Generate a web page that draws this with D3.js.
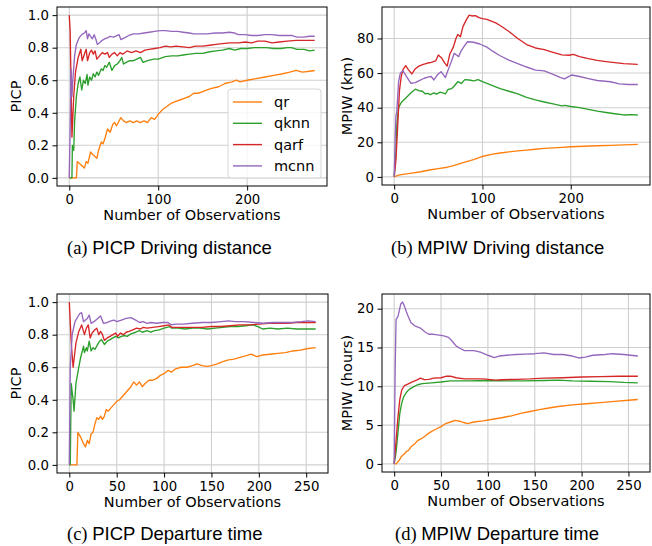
<!DOCTYPE html>
<html>
<head>
<meta charset="utf-8">
<script src="https://cdn.jsdelivr.net/npm/d3@7"></script>
<style>
  body { margin: 0; background: #fff; }
  svg { display: block; }
</style>
</head>
<body>
<div id="chart"></div>
<script>
// series names and colours (matplotlib tab10)
const methods = ["qr", "qknn", "qarf", "mcnn"];
const colors  = ["#ff7f0e", "#2ca02c", "#d62728", "#9467bd"];

// (a) PICP, driving distance  [observations, value]
const picpDistQr = [[0,0],[8,0],[9,0.1],[13,0.08],[17,0.06],[19,0.1],[21,0.09],[24,0.16],[27,0.14],[31,0.12],[33,0.17],[36,0.22],[38,0.21],[40,0.24],[43,0.3],[46,0.28],[49,0.33],[51,0.34],[53,0.32],[55,0.34],[58,0.37],[61,0.35],[64,0.34],[68,0.35],[72,0.34],[76,0.35],[80,0.34],[84,0.35],[88,0.34],[92,0.37],[96,0.36],[100,0.39],[105,0.42],[110,0.44],[115,0.46],[120,0.47],[125,0.48],[130,0.49],[135,0.5],[140,0.52],[145,0.52],[150,0.53],[155,0.54],[160,0.55],[168,0.56],[175,0.58],[183,0.59],[188,0.6],[192,0.59],[200,0.6],[210,0.61],[220,0.62],[230,0.63],[240,0.64],[248,0.65],[255,0.66],[262,0.65],[270,0.655],[276,0.66]];
const picpDistQknn = [[0,0],[3,0],[3.5,0.2],[5,0.17],[6,0.35],[8,0.5],[10,0.58],[12,0.62],[14,0.54],[16,0.6],[18,0.58],[20,0.635],[21,0.57],[23,0.62],[25,0.6],[27,0.64],[29,0.62],[31,0.65],[33,0.63],[36,0.67],[38,0.66],[40,0.69],[42,0.68],[45,0.71],[48,0.66],[51,0.69],[54,0.7],[57,0.72],[59,0.74],[61,0.7],[64,0.71],[68,0.72],[72,0.72],[76,0.73],[80,0.74],[83,0.71],[88,0.72],[95,0.73],[100,0.73],[108,0.745],[115,0.75],[122,0.75],[128,0.755],[135,0.76],[142,0.765],[150,0.765],[158,0.775],[165,0.78],[172,0.785],[180,0.795],[186,0.785],[193,0.795],[200,0.795],[208,0.8],[215,0.8],[222,0.8],[230,0.795],[238,0.795],[245,0.8],[250,0.8],[256,0.79],[264,0.79],[270,0.78],[276,0.785]];
const picpDistQarf = [[0,1.0],[1,0.9],[3,0.25],[5,0.5],[7,0.65],[10,0.74],[13,0.79],[14.5,0.72],[17,0.76],[19,0.79],[20.5,0.72],[23,0.77],[25,0.785],[27,0.76],[29,0.78],[31,0.73],[34,0.75],[37,0.77],[40,0.76],[43,0.77],[45,0.74],[48,0.76],[51,0.77],[54,0.75],[57,0.77],[60,0.76],[65,0.78],[70,0.77],[75,0.78],[80,0.77],[85,0.785],[90,0.79],[96,0.795],[102,0.8],[108,0.81],[114,0.805],[120,0.81],[128,0.805],[135,0.8],[142,0.81],[150,0.81],[158,0.815],[165,0.82],[172,0.825],[180,0.83],[190,0.83],[198,0.835],[205,0.83],[212,0.84],[220,0.84],[228,0.83],[236,0.835],[245,0.84],[255,0.845],[265,0.845],[276,0.845]];
const picpDistMcnn = [[0,0],[1,0.3],[2,0.67],[3,0.5],[4,0.6],[6,0.75],[8,0.82],[11,0.86],[14,0.88],[17,0.89],[19,0.905],[20.5,0.855],[22,0.885],[24,0.87],[26,0.855],[28,0.88],[30,0.85],[31.5,0.82],[34,0.83],[37,0.845],[40,0.855],[43,0.86],[46,0.87],[50,0.865],[54,0.875],[56,0.88],[58,0.85],[62,0.86],[67,0.875],[72,0.885],[78,0.885],[84,0.89],[90,0.895],[96,0.9],[102,0.905],[108,0.905],[115,0.9],[122,0.9],[128,0.895],[135,0.89],[140,0.885],[146,0.885],[155,0.885],[164,0.89],[172,0.89],[180,0.895],[186,0.89],[190,0.88],[198,0.88],[205,0.875],[212,0.875],[220,0.88],[228,0.88],[236,0.875],[244,0.875],[250,0.875],[256,0.865],[264,0.865],[270,0.87],[276,0.87]];

// (b) MPIW (km), driving distance
const mpiwDistQr = [[0,0],[2,0.5],[5,1],[10,1.5],[20,2.2],[30,3],[40,4],[50,4.8],[60,5.6],[65,6.2],[70,7],[80,8.5],[90,10],[100,11.8],[110,13],[120,13.8],[130,14.5],[140,15],[150,15.5],[160,16],[170,16.5],[180,16.8],[190,17.1],[200,17.4],[215,17.7],[230,18],[245,18.2],[260,18.5],[276,18.8]];
const mpiwDistQknn = [[0,0],[2,15],[3,30],[5,40],[8,43],[12,45],[16,47],[20,49],[24,50.7],[28,49.8],[32,49.5],[35,48],[38,48.3],[41,47.5],[45,48.5],[48,47.8],[52,49],[55,48.5],[58,48],[61,50.5],[65,51],[68,52.5],[72,55],[76,54],[80,56.2],[85,56],[90,55.5],[95,56.2],[100,55],[110,53],[120,51],[130,49.5],[140,48],[150,46],[160,44.5],[170,43.3],[180,42.2],[190,41],[193,41.3],[200,40.7],[210,40],[220,39],[230,38],[240,37.2],[250,36.5],[260,35.8],[268,36],[276,35.8]];
const mpiwDistQarf = [[0,0],[2,10],[4,30],[6,50],[8,58],[10,62],[13,64.3],[16,62],[20,59.5],[24,62.5],[28,64],[33,65],[38,65.8],[42,66.2],[47,67],[50,70.4],[54,68.5],[57,66],[60,64],[63,71],[67,75],[70,80],[72,82.3],[75,81],[78,87],[82,91],[85,93.5],[88,93],[92,93.2],[96,92],[100,91.5],[105,91],[110,90],[115,89],[120,87.5],[130,84],[140,80],[150,76.5],[160,74.5],[170,73.5],[180,72],[190,70.5],[198,70.3],[203,70.8],[210,69.5],[220,68.3],[230,67.3],[240,66.6],[250,66],[260,65.5],[276,65]];
const mpiwDistMcnn = [[0,0],[1,20],[2,35],[3,38],[5,55],[7,60],[10,61.3],[14,58],[19,54.1],[24,54.5],[29,55.8],[34,57],[38,57.7],[42,58],[45,56],[49,59],[53,60.8],[55,59.5],[58,57.4],[62,63],[65,67],[68,71.4],[71,70.3],[73,69.5],[76,73],[80,76],[83,78.1],[90,77.8],[97,76.8],[105,75],[112,72.5],[120,70],[130,67.5],[140,65.5],[150,63.5],[160,61.7],[170,61.3],[180,59.3],[188,57.5],[193,56.6],[197,57.8],[201,58.9],[210,58],[220,56.8],[230,55.7],[245,55],[255,53.8],[265,53.4],[276,53.4]];

// (c) PICP, departure time
const picpDepQr = [[0,0],[8,0],[9,0.2],[12,0.17],[15,0.13],[17,0.11],[19,0.15],[21,0.13],[23,0.19],[25,0.2],[27,0.25],[29,0.29],[31,0.28],[33,0.3],[35,0.28],[37,0.3],[39,0.34],[41,0.33],[44,0.35],[47,0.37],[50,0.39],[53,0.4],[56,0.42],[59,0.44],[62,0.46],[65,0.48],[68,0.51],[71,0.49],[74,0.51],[77,0.48],[80,0.5],[84,0.52],[88,0.52],[92,0.53],[96,0.55],[100,0.56],[104,0.58],[108,0.57],[112,0.59],[118,0.6],[124,0.6],[130,0.61],[135,0.62],[140,0.61],[145,0.605],[150,0.61],[156,0.62],[162,0.635],[168,0.645],[174,0.65],[180,0.66],[186,0.67],[192,0.68],[198,0.665],[204,0.675],[212,0.68],[220,0.685],[228,0.69],[236,0.7],[244,0.705],[252,0.715],[260,0.72]];
const picpDepQknn = [[0,0],[1,0],[2,0.5],[4,0.4],[5,0.33],[7,0.5],[10,0.6],[12,0.66],[15,0.73],[16,0.69],[18,0.72],[19,0.7],[21,0.76],[23,0.7],[25,0.72],[27,0.71],[30,0.74],[32,0.76],[34,0.77],[37,0.74],[40,0.76],[43,0.77],[46,0.78],[49,0.79],[52,0.78],[55,0.79],[58,0.795],[61,0.79],[65,0.805],[70,0.815],[74,0.825],[77,0.815],[82,0.825],[86,0.815],[90,0.825],[95,0.83],[100,0.84],[106,0.85],[108,0.84],[115,0.84],[122,0.835],[130,0.84],[138,0.84],[146,0.835],[154,0.84],[162,0.845],[170,0.85],[178,0.85],[186,0.855],[194,0.86],[199,0.85],[204,0.835],[212,0.84],[220,0.835],[230,0.84],[240,0.835],[250,0.835],[260,0.835]];
const picpDepQarf = [[0,1.0],[2,0.75],[4,0.6],[7,0.75],[10,0.82],[13,0.86],[15,0.82],[16,0.8],[18,0.84],[20,0.86],[22,0.78],[24,0.81],[27,0.83],[29,0.84],[31,0.8],[33,0.82],[35,0.8],[37,0.765],[40,0.78],[43,0.79],[46,0.8],[49,0.81],[51,0.79],[54,0.81],[57,0.8],[60,0.815],[63,0.82],[67,0.83],[71,0.84],[75,0.835],[78,0.845],[82,0.84],[88,0.845],[94,0.85],[100,0.855],[105,0.86],[108,0.845],[113,0.845],[120,0.845],[130,0.845],[140,0.845],[150,0.85],[160,0.85],[170,0.855],[180,0.86],[190,0.86],[200,0.865],[210,0.87],[220,0.87],[230,0.87],[240,0.875],[250,0.875],[260,0.875]];
const picpDepMcnn = [[0,0],[1,0.6],[3,0.8],[6,0.88],[9,0.91],[11,0.93],[13,0.935],[15,0.88],[17,0.89],[19,0.9],[21,0.92],[23,0.87],[26,0.88],[29,0.895],[33,0.915],[36,0.87],[40,0.875],[44,0.885],[47,0.89],[50,0.88],[55,0.89],[60,0.9],[65,0.905],[70,0.89],[74,0.875],[78,0.88],[82,0.87],[86,0.875],[92,0.87],[98,0.875],[104,0.875],[108,0.86],[112,0.865],[120,0.865],[130,0.87],[140,0.875],[150,0.875],[160,0.88],[168,0.885],[175,0.88],[185,0.88],[195,0.875],[205,0.87],[215,0.875],[225,0.875],[235,0.875],[245,0.88],[252,0.885],[260,0.88]];

// (d) MPIW (hours), departure time
const mpiwDepQr = [[0,0],[2,0],[5,0.4],[8,1],[11,1.3],[13,1.6],[15,1.7],[18,2.2],[20,2.4],[22,2.6],[25,3],[28,3.2],[31,3.4],[35,3.8],[40,4.2],[45,4.5],[50,4.8],[55,5.2],[60,5.4],[65,5.6],[70,5.5],[75,5.3],[78,5.2],[85,5.4],[95,5.55],[105,5.75],[115,5.95],[125,6.2],[135,6.5],[145,6.75],[155,7],[165,7.2],[175,7.4],[190,7.6],[205,7.75],[220,7.9],[235,8.05],[250,8.2],[260,8.3]];
const mpiwDepQknn = [[0,0],[2,1.5],[4,4],[6,6.5],[8,7.8],[10,8.6],[13,9.2],[16,9.6],[20,9.9],[25,10.2],[30,10.35],[40,10.45],[50,10.55],[60,10.7],[70,10.7],[80,10.7],[100,10.75],[120,10.7],[140,10.7],[160,10.75],[175,10.8],[190,10.7],[210,10.65],[230,10.6],[245,10.5],[260,10.45]];
const mpiwDepQarf = [[0,0],[2,3],[4,6],[6,8.3],[8,9.5],[11,10.1],[15,10.3],[20,10.6],[24,10.8],[28,11.05],[32,10.85],[37,10.9],[42,11.05],[50,11.1],[56,11.3],[60,11.3],[66,11.1],[75,10.95],[85,10.95],[95,10.95],[108,10.8],[115,10.85],[130,10.9],[145,10.95],[160,11.05],[180,11.1],[200,11.2],[220,11.25],[240,11.3],[260,11.3]];
const mpiwDepMcnn = [[0,0],[1,12],[2,18.6],[4,19],[5,19.5],[7,20.6],[9,20.85],[11,20.3],[13,19.6],[15,19],[18,18.2],[22,17.8],[28,17.5],[33,17],[37,16.7],[42,16.7],[48,16.6],[53,16.5],[58,16.3],[62,15.8],[66,15.2],[70,14.9],[75,14.6],[85,14.6],[92,14.4],[100,14],[107,13.7],[112,13.9],[120,14],[130,14.1],[140,14.15],[150,14.2],[160,14.3],[170,14.1],[180,14.1],[190,13.9],[197,13.65],[204,13.75],[212,14],[225,14.1],[233,14.2],[245,14.1],[252,14],[260,13.9]];

// tick labels
const xTicksDist = [0, 100, 200];
const xTicksDep  = [0, 50, 100, 150, 200, 250];
const yTicksPicp = [0, 0.2, 0.4, 0.6, 0.8, 1.0];
const yTicksKm   = [0, 20, 40, 60, 80];
const yTicksHrs  = [0, 5, 10, 15, 20];

const W = 652, H = 546;
const axisFont = "DejaVu Sans, sans-serif";

const svg = d3.select("#chart").append("svg")
  .attr("width", W)
  .attr("height", H);

const panels = [
  {series: [picpDistQr, picpDistQknn, picpDistQarf, picpDistMcnn],
   left: 57, right: 327, top: 7, bottom: 186, xTicks: xTicksDist, yTicks: yTicksPicp, yFmt: d3.format(".1f"),
   ylabel: "PICP", ylabelX: 21, legend: true, tag: "(a)", caption: "PICP Driving distance", capX: 67, capY: 254},
  {series: [mpiwDistQr, mpiwDistQknn, mpiwDistQarf, mpiwDistMcnn],
   left: 382, right: 650, top: 7, bottom: 185, xTicks: xTicksDist, yTicks: yTicksKm, yFmt: d3.format("d"),
   ylabel: "MPIW (km)", ylabelX: 352, legend: false, tag: "(b)", caption: "MPIW Driving distance", capX: 391, capY: 254},
  {series: [picpDepQr, picpDepQknn, picpDepQarf, picpDepMcnn],
   left: 57, right: 328, top: 294, bottom: 473, xTicks: xTicksDep, yTicks: yTicksPicp, yFmt: d3.format(".1f"),
   ylabel: "PICP", ylabelX: 21, legend: false, tag: "(c)", caption: "PICP Departure time", capX: 67, capY: 540},
  {series: [mpiwDepQr, mpiwDepQknn, mpiwDepQarf, mpiwDepMcnn],
   left: 382, right: 650, top: 294, bottom: 472, xTicks: xTicksDep, yTicks: yTicksHrs, yFmt: d3.format("d"),
   ylabel: "MPIW (hours)", ylabelX: 352, legend: false, tag: "(d)", caption: "MPIW Departure time", capX: 395, capY: 540}
];

panels.forEach(function(p) {
  let all = [].concat(...p.series);
  let xExt = d3.extent(all, d => d[0]);
  let yExt = d3.extent(all, d => d[1]);
  let xPad = (xExt[1] - xExt[0]) * 0.05;
  let yPad = (yExt[1] - yExt[0]) * 0.05;

  let x = d3.scaleLinear().domain([xExt[0] - xPad, xExt[1] + xPad]).range([p.left, p.right]);
  let y = d3.scaleLinear().domain([yExt[0] - yPad, yExt[1] + yPad]).range([p.bottom, p.top]);

  let g = svg.append("g");

  // grid
  g.append("g")
    .selectAll("line.vgrid")
    .data(p.xTicks)
    .join("line")
      .attr("x1", d => x(d)).attr("x2", d => x(d))
      .attr("y1", p.top).attr("y2", p.bottom)
      .attr("stroke", "#cfcfcf")
      .attr("stroke-width", 1.1);
  g.append("g")
    .selectAll("line.hgrid")
    .data(p.yTicks)
    .join("line")
      .attr("x1", p.left).attr("x2", p.right)
      .attr("y1", d => y(d)).attr("y2", d => y(d))
      .attr("stroke", "#cfcfcf")
      .attr("stroke-width", 1.1);

  // lines
  let line = d3.line().x(d => x(d[0])).y(d => y(d[1]));
  g.append("g")
    .selectAll("path")
    .data(p.series)
    .join("path")
      .attr("d", line)
      .attr("fill", "none")
      .attr("stroke", (d, i) => colors[i])
      .attr("stroke-width", 1.35)
      .attr("stroke-linejoin", "round");

  // axes
  let xAxis = d3.axisBottom(x).tickValues(p.xTicks).tickSize(4.5).tickPadding(4);
  let yAxis = d3.axisLeft(y).tickValues(p.yTicks).tickFormat(p.yFmt).tickSize(4.5).tickPadding(3.5);

  g.append("g")
    .attr("transform", `translate(0, ${p.bottom})`)
    .call(xAxis)
    .call(a => a.select(".domain").remove())
    .call(a => a.selectAll("text").attr("font-family", axisFont).attr("font-size", "13.3px").attr("fill", "#000"))
    .call(a => a.selectAll(".tick line").attr("stroke", "#000"));
  g.append("g")
    .attr("transform", `translate(${p.left}, 0)`)
    .call(yAxis)
    .call(a => a.select(".domain").remove())
    .call(a => a.selectAll("text").attr("font-family", axisFont).attr("font-size", "13.3px").attr("fill", "#000"))
    .call(a => a.selectAll(".tick line").attr("stroke", "#000"));

  // frame
  g.append("rect")
    .attr("x", p.left).attr("y", p.top)
    .attr("width", p.right - p.left).attr("height", p.bottom - p.top)
    .attr("fill", "none")
    .attr("stroke", "#000")
    .attr("stroke-width", 1);

  // axis titles
  g.append("text")
    .attr("x", (p.left + p.right) / 2)
    .attr("y", p.bottom + 33.5)
    .attr("text-anchor", "middle")
    .attr("font-family", axisFont)
    .attr("font-size", "14.5px")
    .text("Number of Observations");
  g.append("text")
    .attr("transform", `translate(${p.ylabelX}, ${(p.top + p.bottom) / 2}) rotate(-90)`)
    .attr("text-anchor", "middle")
    .attr("font-family", axisFont)
    .attr("font-size", "14.5px")
    .text(p.ylabel);

  // legend
  if (p.legend) {
    let lg = g.append("g").attr("transform", `translate(${p.right - 99}, ${p.bottom - 97})`);
    lg.append("rect")
      .attr("width", 93).attr("height", 89)
      .attr("rx", 3)
      .attr("fill", "#fff").attr("fill-opacity", 0.8)
      .attr("stroke", "#d6d6d6");
    let item = lg.selectAll("g.item")
      .data(methods)
      .join("g")
        .attr("class", "item")
        .attr("transform", (d, i) => `translate(0, ${13 + i * 21.3})`);
    item.append("line")
      .attr("x1", 5).attr("x2", 34)
      .attr("stroke", (d, i) => colors[i])
      .attr("stroke-width", 1.4);
    item.append("text")
      .attr("x", 46)
      .attr("dy", "0.35em")
      .attr("font-family", axisFont)
      .attr("font-size", "14.5px")
      .text(d => d);
  }

  // caption: tag in serif, rest in sans
  let cap = svg.append("text")
    .attr("x", p.capX)
    .attr("y", p.capY)
    .attr("font-size", "18.5px")
    .attr("fill", "#000");
  cap.append("tspan").attr("font-family", "Liberation Serif, serif").text(p.tag + " ");
  cap.append("tspan").attr("font-family", "Liberation Sans, sans-serif").text(p.caption);
});
</script>
</body>
</html>
